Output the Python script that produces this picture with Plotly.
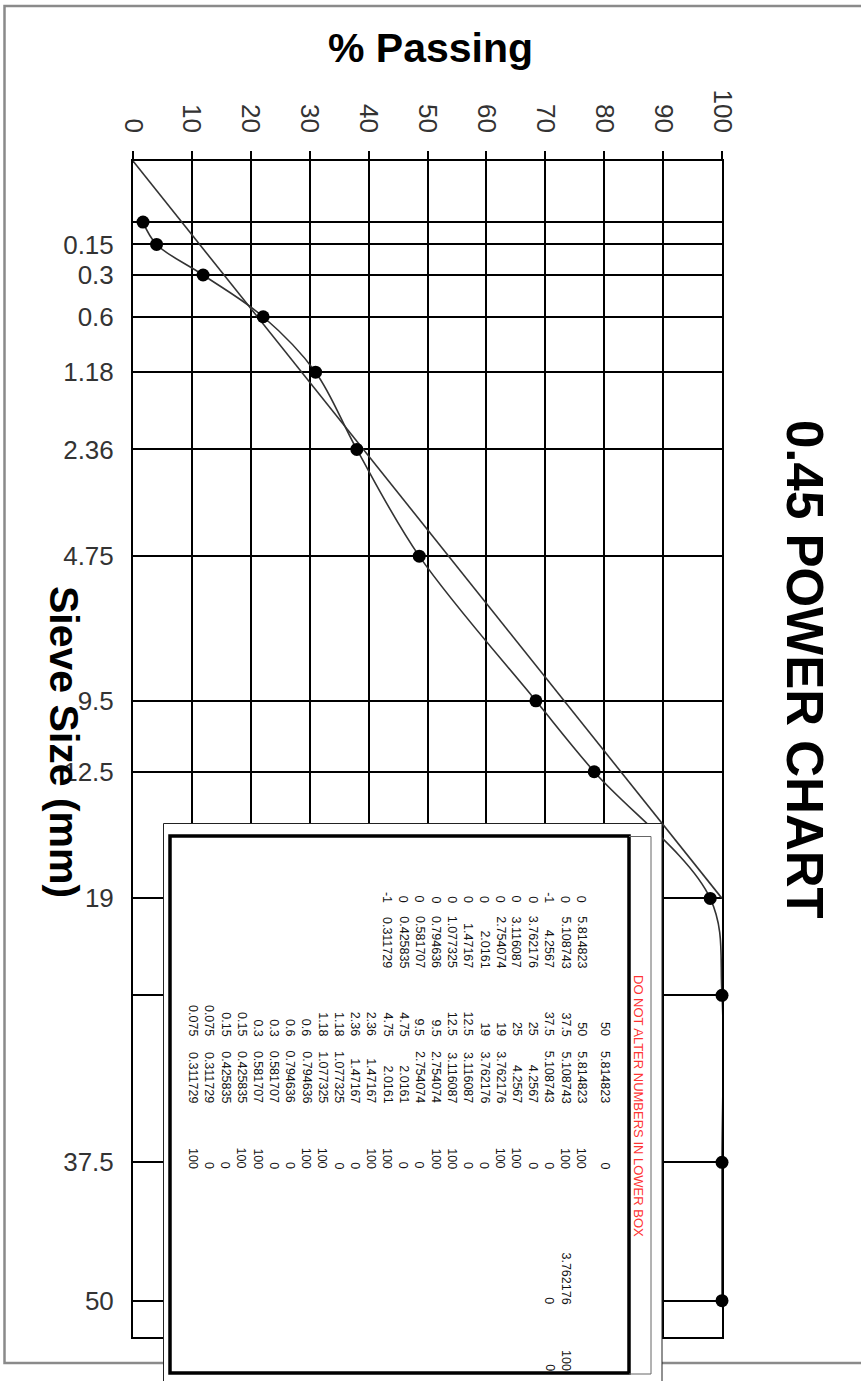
import plotly.graph_objects as go

# ---------------- data ----------------
sieve_sizes = [0.075, 0.15, 0.3, 0.6, 1.18, 2.36, 4.75, 9.5, 12.5, 19, 25, 37.5, 50]
power_values = [0.311729, 0.425835, 0.581707, 0.794636, 1.077325, 1.47167, 2.0161,
                2.754074, 3.116087, 3.762176, 4.2567, 5.108743, 5.814823]
percent_passing = [1.7, 4.0, 11.9, 22.1, 31.0, 38.0, 48.6, 68.4, 78.3, 98.0, 100, 100, 100]
sieve_labels = ["", "0.15", "0.3", "0.6", "1.18", "2.36", "4.75", "9.5", "12.5", "19", "", "37.5", "50"]
label_flags = [-1, 0, 0, 0, 0, 0, 0, 0, 0, 0, -1, 0, 0]
passing_ticks = [0, 10, 20, 30, 40, 50, 60, 70, 80, 90, 100]
max_density_passing = [0, 100]
max_density_power = [0, 3.762176]
grid_line_ends = [0, 100, 100, 0, 0, 100, 100, 0, 0, 100, 100, 0, 0,
                  100, 100, 0, 0, 100, 100, 0, 0, 100, 100, 0, 0, 100]
nmas_cells = ["3.762176", "0"]
nmas_pct_cells = ["100", "0"]

# ---------------- geometry helpers ----------------
W, H = 861, 1381
L, R, T, B = 133, 722, 161, 1337


def px(x):
    return (x - L) / (R - L)


def py(y):
    return (B - y) / (B - T)


def row_x(k):
    return 605 if k == 0 else 581.7 - 16.18 * (k - 1)


fig = go.Figure()

fig.add_trace(go.Scatter(
    x=max_density_passing, y=max_density_power, mode="lines",
    line=dict(color="#333333", width=1.6), cliponaxis=False, hoverinfo="skip"))

fig.add_trace(go.Scatter(
    x=percent_passing, y=power_values, mode="lines+markers",
    line=dict(color="#333333", width=1.6, shape="spline", smoothing=1.0),
    marker=dict(color="black", size=13), cliponaxis=False))

shapes = []
# outer frame
shapes.append(dict(type="rect", xref="paper", yref="paper",
                   x0=px(4.5), x1=px(905), y0=py(6), y1=py(1363),
                   line=dict(color="#8a8a8a", width=2.5), layer="above"))
# data box
shapes.append(dict(type="rect", xref="paper", yref="paper",
                   x0=px(163.5), x1=px(662), y0=py(823.5), y1=py(1400),
                   fillcolor="white", line=dict(color="#222222", width=1), layer="above"))
shapes.append(dict(type="rect", xref="paper", yref="paper",
                   x0=px(170), x1=px(629), y0=py(836), y1=py(1373),
                   line=dict(color="black", width=3.5), layer="above"))
shapes.append(dict(type="path", xref="paper", yref="paper",
                   path="M %f %f L %f %f L %f %f L %f %f" % (
                       px(629), py(836.5), px(651), py(836.5), px(651), py(1374), px(629), py(1374)),
                   line=dict(color="#666666", width=1), layer="above"))

ann = []
cell_font = dict(family="Liberation Sans, Arial, sans-serif", size=12.5, color="#111111")


def cell(text, k, end_y):
    ann.append(dict(text=text, x=px(row_x(k)), y=py(end_y + 2), xref="paper", yref="paper",
                    xanchor="center", yanchor="bottom", textangle=90, showarrow=False,
                    font=cell_font, borderpad=0))


n = len(sieve_sizes)
# block 1
for k in range(1, n + 1):
    i = n - k
    cell(str(label_flags[i]), k, 902)
    cell(str(power_values[i]), k, 967)
# block 2
for k in range(2 * n):
    i = n - 1 - k // 2
    cell(str(sieve_sizes[i]), k, 1035)
    cell(str(power_values[i]), k, 1102)
    cell(str(grid_line_ends[k]), k, 1168)
for j in range(2):
    cell(nmas_cells[j], 2 + j, 1303)
    cell(nmas_pct_cells[j], 2 + j, 1370)

ann.append(dict(text="DO NOT ALTER NUMBERS IN LOWER BOX", x=px(639), y=py(1106),
                xref="paper", yref="paper", xanchor="center", yanchor="middle",
                textangle=90, showarrow=False,
                font=dict(family="Liberation Sans, Arial, sans-serif", size=13, color="#ff3333")))

title_font = dict(family="Liberation Sans, Arial, sans-serif", color="black", weight="bold")
ann.append(dict(text="% Passing", x=px(430), y=py(48), xref="paper", yref="paper",
                xanchor="center", yanchor="middle", showarrow=False,
                font=dict(title_font, size=41)))
ann.append(dict(text="0.45 POWER CHART", x=px(805), y=py(669), xref="paper", yref="paper",
                xanchor="center", yanchor="middle", textangle=90, showarrow=False,
                font=dict(title_font, size=51)))
ann.append(dict(text="Sieve Size (mm)", x=px(64), y=py(742), xref="paper", yref="paper",
                xanchor="center", yanchor="middle", textangle=90, showarrow=False,
                font=dict(title_font, size=41)))

tick_font = dict(family="Liberation Sans, Arial, sans-serif", size=26, color="#333333")

fig.update_layout(
    width=W, height=H,
    margin=dict(l=L, r=W - R, t=T, b=H - B, pad=0),
    paper_bgcolor="white", plot_bgcolor="white",
    showlegend=False,
    shapes=shapes, annotations=ann,
    xaxis=dict(range=[0, 100], side="top", tickvals=passing_ticks, tickangle=90,
               ticks="outside", ticklen=8, tickwidth=2, tickcolor="black",
               showline=True, linecolor="black", linewidth=2, mirror=True,
               showgrid=True, gridcolor="black", gridwidth=2, zeroline=False,
               tickfont=tick_font, ticklabelstandoff=9, fixedrange=True),
    yaxis=dict(range=[6, 0], tickvals=power_values, ticktext=sieve_labels,
               ticks="", showline=True, linecolor="black", linewidth=2, mirror=True,
               showgrid=True, gridcolor="black", gridwidth=2, zeroline=False,
               tickfont=tick_font, ticklabelstandoff=12, fixedrange=True),
)

fig.write_html("out.html", config={"displayModeBar": False},
               post_script="document.body.style.margin='0';document.body.style.overflow='hidden';")
